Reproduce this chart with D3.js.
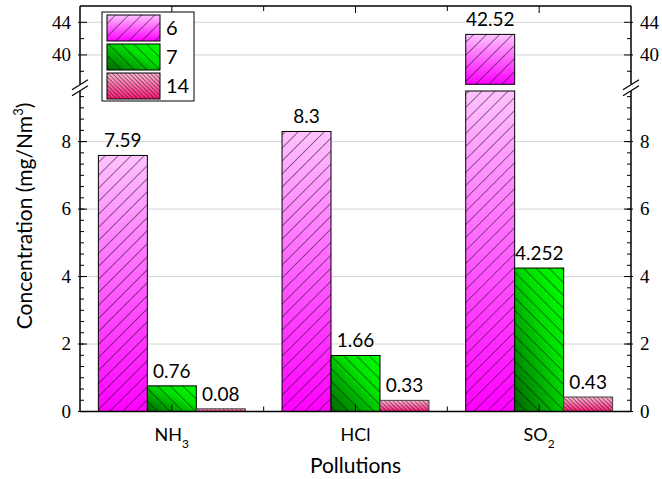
<!DOCTYPE html>
<html>
<head>
<meta charset="utf-8">
<script src="https://cdn.jsdelivr.net/npm/d3@7"></script>
<style>
  body { margin: 0; background: #fff; }
  .tick-label { font-family: "Liberation Serif", "Times New Roman", serif; font-size: 19px; fill: #000; }
  .sans { font-family: Lato, "Open Sans", sans-serif; fill: #000; }
</style>
</head>
<body>
<svg id="chart" width="662" height="479"></svg>
<script>
const categories = ["NH3", "HCl", "SO2"];
const catLabels = [["NH", "3"], ["HCl", ""], ["SO", "2"]];
const series = ["6", "7", "14"];
const values6 = [7.59, 8.3, 42.52];
const values7 = [0.76, 1.66, 4.252];
const values14 = [0.08, 0.33, 0.43];
const lowTicks = [0, 2, 4, 6, 8];
const highTicks = [40, 44];

const seriesValues = [values6, values7, values14];

const svg = d3.select("#chart");
const pLeft = 80, pRight = 631, pTop = 6, pBottom = 411.5;
const lowTop = 91, highBottom = 84.3;

const x = d3.scaleBand().domain(categories).range([pLeft, pRight]);
const xs = d3.scaleBand().domain(series).range([0, x.bandwidth() * 0.8]);
const xOff = x.bandwidth() * 0.1;

const yLow = d3.scaleLinear().domain([0, 9.5]).range([pBottom, lowTop]);
const yHigh = d3.scaleLinear().domain([36.4, 46]).range([highBottom, pTop]);

// defs: gradients + hatches
const defs = svg.append("defs");
const grads = [
  {id: "g6", dir: [0, 0, 0, 1], stops: [["0%", "#ffc2ff"], ["100%", "#ff00ff"]]},
  {id: "g7", dir: [1, 0, 0, 1], stops: [["0%", "#00ff00"], ["40%", "#00e000"], ["100%", "#006400"]]},
  {id: "g14", dir: [0, 0, 0, 1], stops: [["0%", "#ffbcd8"], ["100%", "#ff1a78"]]}
];
grads.forEach(g => {
  const lg = defs.append("linearGradient").attr("id", g.id)
      .attr("x1", g.dir[0]).attr("y1", g.dir[1]).attr("x2", g.dir[2]).attr("y2", g.dir[3]);
  g.stops.forEach(s => lg.append("stop").attr("offset", s[0]).attr("stop-color", s[1]));
});
const hatches = [
  {id: "h6", size: 9.2, rot: 45},
  {id: "h7", size: 9, rot: -45},
  {id: "h14", size: 3, rot: -45}
];
hatches.forEach(h => {
  defs.append("pattern")
      .attr("id", h.id)
      .attr("patternUnits", "userSpaceOnUse")
      .attr("width", h.size)
      .attr("height", h.size)
      .attr("patternTransform", `rotate(${h.rot})`)
    .append("line")
      .attr("x1", 0).attr("y1", 0).attr("x2", 0).attr("y2", h.size)
      .attr("stroke", "#000").attr("stroke-width", 0.9);
});

// gridlines
const grid = svg.append("g");
lowTicks.filter(t => t > 0).forEach(t => {
  grid.append("line").attr("x1", pLeft).attr("x2", pRight)
      .attr("y1", yLow(t)).attr("y2", yLow(t))
      .attr("stroke", "#d4d4d4").attr("stroke-width", 1);
});
highTicks.forEach(t => {
  grid.append("line").attr("x1", pLeft).attr("x2", pRight)
      .attr("y1", yHigh(t)).attr("y2", yHigh(t))
      .attr("stroke", "#d4d4d4").attr("stroke-width", 1);
});

// bars
function drawRect(g, x0, w, y0, y1, si) {
  const h = Math.max(y1 - y0, 0.5);
  g.append("rect").attr("x", x0).attr("y", y0).attr("width", w).attr("height", h)
      .attr("fill", `url(#${grads[si].id})`);
  g.append("rect").attr("x", x0).attr("y", y0).attr("width", w).attr("height", h)
      .attr("fill", `url(#${hatches[si].id})`)
      .attr("stroke", si === 2 ? "#444" : "#000").attr("stroke-width", 1);
}

const bars = svg.append("g");
seriesValues.forEach((vals, si) => {
  vals.forEach((v, ci) => {
    const bx = x(categories[ci]) + xOff + xs(series[si]);
    const bw = xs.bandwidth();
    let labelY;
    if (v > 9.5) {
      drawRect(bars, bx, bw, yLow(9.5), yLow(0), si);
      drawRect(bars, bx, bw, yHigh(v), highBottom, si);
      labelY = yHigh(v);
    } else {
      drawRect(bars, bx, bw, yLow(v), yLow(0), si);
      labelY = yLow(v);
    }
    bars.append("text").attr("class", "sans")
        .attr("x", bx + bw / 2).attr("y", labelY - 8)
        .attr("text-anchor", "middle").attr("font-size", 19)
        .text(v);
  });
});

// axes frame
const axes = svg.append("g").attr("stroke", "#000").attr("stroke-width", 1.5);
axes.append("line").attr("x1", pLeft).attr("x2", pRight).attr("y1", pBottom).attr("y2", pBottom);
axes.append("line").attr("x1", pLeft).attr("x2", pRight).attr("y1", pTop).attr("y2", pTop);
[pLeft, pRight].forEach(ax => {
  axes.append("line").attr("x1", ax).attr("x2", ax).attr("y1", pBottom).attr("y2", lowTop);
  axes.append("line").attr("x1", ax).attr("x2", ax).attr("y1", highBottom).attr("y2", pTop);
});

// y ticks
const ticks = svg.append("g").attr("stroke", "#000").attr("stroke-width", 1);
const minorLow = d3.range(0, 29).map(k => k / 3);
const minorHigh = [38, 42];
[[pLeft, 1], [pRight, -1]].forEach(([ax, dir]) => {
  minorLow.forEach(t => ticks.append("line")
      .attr("x1", ax).attr("x2", ax + dir * 4)
      .attr("y1", yLow(t)).attr("y2", yLow(t)));
  minorHigh.forEach(t => ticks.append("line")
      .attr("x1", ax).attr("x2", ax + dir * 4)
      .attr("y1", yHigh(t)).attr("y2", yHigh(t)));
  lowTicks.forEach(t => ticks.append("line")
      .attr("x1", ax - dir * 2).attr("x2", ax + dir * 7)
      .attr("y1", yLow(t)).attr("y2", yLow(t)));
  highTicks.forEach(t => ticks.append("line")
      .attr("x1", ax - dir * 2).attr("x2", ax + dir * 7)
      .attr("y1", yHigh(t)).attr("y2", yHigh(t)));
});

// x ticks (bottom and top, inward)
categories.forEach((c, i) => {
  const cx = x(c) + x.bandwidth() / 2;
  ticks.append("line").attr("x1", cx).attr("x2", cx).attr("y1", pBottom).attr("y2", pBottom - 7);
  ticks.append("line").attr("x1", cx).attr("x2", cx).attr("y1", pTop).attr("y2", pTop + 7);
  if (i > 0) {
    ticks.append("line").attr("x1", x(c)).attr("x2", x(c)).attr("y1", pBottom).attr("y2", pBottom - 5);
    ticks.append("line").attr("x1", x(c)).attr("x2", x(c)).attr("y1", pTop).attr("y2", pTop + 5);
  }
});

// tick labels
const lbl = svg.append("g");
lowTicks.forEach(t => {
  lbl.append("text").attr("class", "tick-label").attr("x", pLeft - 9).attr("y", yLow(t))
      .attr("dy", "0.33em").attr("text-anchor", "end").text(t);
  lbl.append("text").attr("class", "tick-label").attr("x", pRight + 9).attr("y", yLow(t))
      .attr("dy", "0.33em").attr("text-anchor", "start").text(t);
});
highTicks.forEach(t => {
  lbl.append("text").attr("class", "tick-label").attr("x", pLeft - 9).attr("y", yHigh(t))
      .attr("dy", "0.33em").attr("text-anchor", "end").text(t);
  lbl.append("text").attr("class", "tick-label").attr("x", pRight + 9).attr("y", yHigh(t))
      .attr("dy", "0.33em").attr("text-anchor", "start").text(t);
});

// axis break marks
const brkY = (lowTop + highBottom) / 2;
[pLeft, pRight].forEach(ax => {
  svg.append("rect").attr("x", ax - 6).attr("y", brkY - 3).attr("width", 12).attr("height", 6)
      .attr("fill", "#fff");
  [-3, 3].forEach(o => {
    svg.append("line")
        .attr("x1", ax - 8).attr("y1", brkY + o + 5)
        .attr("x2", ax + 8).attr("y2", brkY + o - 5)
        .attr("stroke", "#000").attr("stroke-width", 1.2);
  });
});

// category labels
categories.forEach((c, i) => {
  const t = svg.append("text").attr("class", "sans")
      .attr("x", x(c) + x.bandwidth() / 2).attr("y", 440.5)
      .attr("text-anchor", "middle").attr("font-size", 18);
  t.append("tspan").text(catLabels[i][0]);
  if (catLabels[i][1]) {
    t.append("tspan").attr("font-size", 12).attr("dy", 7).text(catLabels[i][1]);
  }
});

// axis titles
svg.append("text").attr("class", "sans")
    .attr("x", (pLeft + pRight) / 2).attr("y", 473)
    .attr("text-anchor", "middle").attr("font-size", 21)
    .text("Pollutions");

const yt = svg.append("text").attr("class", "sans")
    .attr("transform", "translate(32,216) rotate(-90)")
    .attr("text-anchor", "middle").attr("font-size", 21);
yt.append("tspan").text("Concentration (mg/Nm");
yt.append("tspan").attr("font-size", 13).attr("dy", -9).text("3");
yt.append("tspan").attr("dy", 9).text(")");

// legend
const lg = svg.append("g");
lg.append("rect").attr("x", 102).attr("y", 12).attr("width", 92).attr("height", 89)
    .attr("fill", "#fff").attr("stroke", "#000").attr("stroke-width", 1);
series.forEach((s, i) => {
  const ly = 15 + i * 29;
  lg.append("rect").attr("x", 107).attr("y", ly).attr("width", 53).attr("height", 26)
      .attr("fill", `url(#${grads[i].id})`);
  lg.append("rect").attr("x", 107).attr("y", ly).attr("width", 53).attr("height", 26)
      .attr("fill", `url(#${hatches[i].id})`).attr("stroke", "#000").attr("stroke-width", 1);
  lg.append("text").attr("class", "sans").attr("x", 166).attr("y", ly + 20)
      .attr("font-size", 20).text(s);
});
</script>
</body>
</html>
